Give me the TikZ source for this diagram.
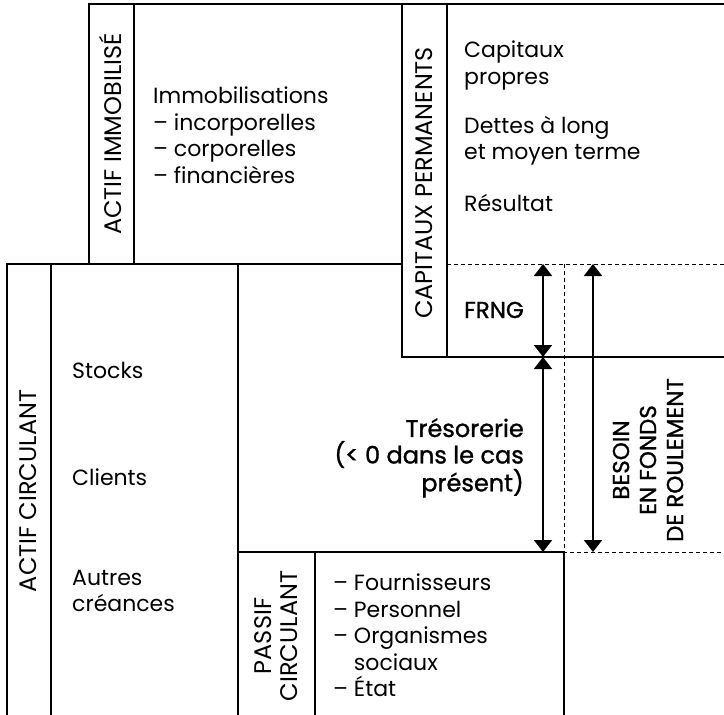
\documentclass[tikz,border=0pt]{standalone}
\usepackage{fontspec}
\setmainfont{Poppins}
\newfontfamily\demifont{Poppins}[FakeBold=1.2]
\usetikzlibrary{arrows.meta}
\tikzset{
  frame/.style={line width=1.8pt},
  guide/.style={line width=0.9pt, dash pattern=on 4pt off 3pt},
  span/.style={line width=1.8pt, {Triangle[width=18pt,length=12pt]}-{Triangle[width=18pt,length=12pt]}},
  txt/.style={inner sep=0pt, align=left, font=\fontsize{22}{26.5}\selectfont},
  demi/.style={txt, font=\fontsize{23}{26.5}\selectfont\demifont},
  sidelabel/.style={inner sep=0pt, rotate=90, align=center, font=\fontsize{24}{25.5}\selectfont},
}
\begin{document}
\begin{tikzpicture}[x=1pt,y=-1pt]
    \useasboundingbox (0,0) rectangle (724,715);
    % actif immobilise
    \draw[frame] (89,264) -- (89,4) -- (724,4);
    \draw[frame] (134,4) -- (134,264);
    % capitaux permanents
    \draw[frame] (402,4) -- (402,357) -- (724,357);
    \draw[frame] (447,4) -- (447,357);
    % actif circulant
    \draw[frame] (7,715) -- (7,264) -- (402,264);
    \draw[frame] (51,264) -- (51,715);
    \draw[frame] (238,264) -- (238,715);
    % passif circulant
    \draw[frame] (238,552) -- (564,552) -- (564,715);
    \draw[frame] (315,552) -- (315,715);
    % limits of the fonds de roulement
    \draw[guide] (447,264) -- (724,264);
    \draw[guide] (564,264) -- (564,552) -- (724,552);

    \coordinate (frngTop) at (543,264);
    \coordinate (frngBot) at (543,357);
    \coordinate (tresBot) at (543,552);
    \coordinate (bfrTop) at (593,264);
    \coordinate (bfrBot) at (593,552);
    \draw[span] (frngTop) -- (frngBot);
    \draw[span] (frngBot) -- (tresBot);
    \draw[span] (bfrTop) -- (bfrBot);

    % labels
    \node[sidelabel, anchor=base] (actImmo) at (121,134) {ACTIF IMMOBILISÉ};
    \node[sidelabel, anchor=base] (capPerm) at (432,183) {CAPITAUX PERMANENTS};
    \node[sidelabel, anchor=base] (actCirc) at (37,491) {ACTIF CIRCULANT};
    \node[sidelabel] (pasCirc) at (276,636) {PASSIF\\CIRCULANT};
    \node[sidelabel, font=\fontsize{23}{27}\selectfont\demifont] (bfr) at (648,460) {BESOIN\\EN FONDS\\DE ROULEMENT};

    \node[txt, anchor=north west] (immo) at (153,87) {Immobilisations\\– incorporelles\\– corporelles\\– financières};
    \node[txt, anchor=north west] (capPropres) at (464,41) {Capitaux\\propres};
    \node[txt, anchor=north west] (dettes) at (464,116) {Dettes à long\\et moyen terme};
    \node[txt, anchor=base west] (resultat) at (464,211) {Résultat};
    \node[demi, anchor=base west] (frng) at (464,318) {FRNG};
    \node[demi, anchor=north east, align=right, font=\fontsize{24}{26.5}\selectfont\demifont] (tresorerie) at (524,418) {Trésorerie\\(< 0 dans le cas\\présent)};

    \node[txt, anchor=base west] (stocks) at (72,378) {Stocks};
    \node[txt, anchor=base west] (clients) at (72,485) {Clients};
    \node[txt, anchor=north west] (autres) at (72,570) {Autres\\créances};
    \node[txt, anchor=north west] (dettesCirc) at (333,574) {– Fournisseurs\\– Personnel\\– Organismes\\\phantom{– }sociaux\\– État};
\end{tikzpicture}
\end{document}
